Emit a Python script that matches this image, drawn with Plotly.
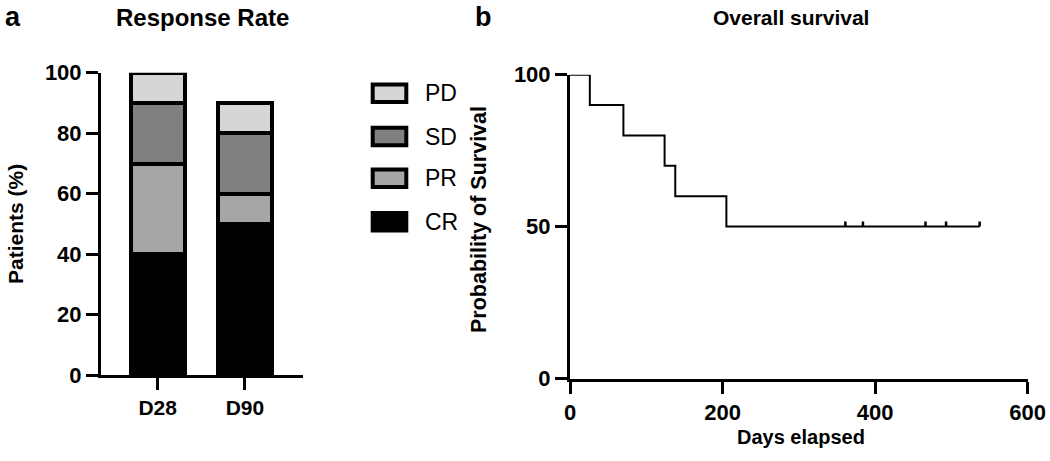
import plotly.graph_objects as go

# panel a: response rate (% of patients), stacked
timepoints = ["D28", "D90"]
cr = [40, 50]
pr = [30, 10]
sd = [20, 20]
pd_ = [10, 10]
resp_names = ["CR", "PR", "SD", "PD"]
resp_colors = ["#000000", "#a6a6a6", "#808080", "#d6d6d6"]

# panel b: Kaplan-Meier overall survival
km_days = [0, 26, 70, 124, 138, 205, 537]
km_surv = [100, 90, 80, 70, 60, 50, 50]
censor_days = [361, 384, 466, 493, 537]
censor_surv = [50, 50, 50, 50, 50]

W, H = 1050, 461
FONT = "Liberation Sans"


def px(x):
    return x / W


def py(y):
    return 1 - y / H


fig = go.Figure()

for name, vals, col in zip(resp_names, [cr, pr, sd, pd_], resp_colors):
    fig.add_trace(go.Bar(
        x=timepoints, y=vals, name=name, width=0.62,
        marker=dict(color=col, line=dict(color="black", width=4)),
        cliponaxis=False, xaxis="x", yaxis="y", showlegend=False,
    ))

fig.add_trace(go.Scatter(
    x=km_days, y=km_surv, mode="lines", line=dict(color="black", width=2, shape="hv"),
    cliponaxis=False, xaxis="x2", yaxis="y2", showlegend=False,
))
# censor marks: short upward ticks
fig.add_trace(go.Scatter(
    x=censor_days, y=censor_surv, mode="markers",
    marker=dict(size=1, color="rgba(0,0,0,0)"),
    error_y=dict(type="constant", value=1.7, symmetric=False, valueminus=0,
                 thickness=2.5, width=0, color="black"),
    cliponaxis=False, xaxis="x2", yaxis="y2", showlegend=False,
))

tickfont = dict(family=FONT, size=22, color="black", weight="bold")
axis_common = dict(showline=True, linewidth=3, linecolor="black", ticks="outside",
                   ticklen=12, tickwidth=3, tickcolor="black", showgrid=False,
                   zeroline=False, tickfont=tickfont, automargin=False)

fig.update_layout(
    width=W, height=H, margin=dict(l=0, r=0, t=0, b=0, autoexpand=False),
    paper_bgcolor="white", plot_bgcolor="white",
    barmode="stack", bargap=0,
    xaxis=dict(domain=[px(101), px(303)], anchor="y", range=[-0.649, 1.665],
               type="category", **axis_common),
    yaxis=dict(domain=[py(375), py(72.7)], anchor="x", range=[0, 100],
               tickvals=[0, 20, 40, 60, 80, 100], **axis_common),
    xaxis2=dict(domain=[px(570), px(1027.7)], anchor="y2", range=[0, 600],
                tickvals=[0, 200, 400, 600], **axis_common),
    yaxis2=dict(domain=[py(378.5), py(74.7)], anchor="x2", range=[0, 100],
                tickvals=[0, 50, 100], **axis_common),
)
fig.update_xaxes(tickfont_size=21, selector=dict(type="category"))

# legend drawn by hand to get the large outlined boxes
leg_rows = [("PD", 93.3), ("SD", 136.5), ("PR", 178.3), ("CR", 221.7)]
for name, yc in leg_rows:
    col = resp_colors[resp_names.index(name)]
    fig.add_shape(type="rect", xref="paper", yref="paper",
                  x0=px(372.7), x1=px(406.3), y0=py(yc + 8.7), y1=py(yc - 8.7),
                  fillcolor=col, line=dict(color="black", width=4))
    fig.add_annotation(x=px(423), y=py(yc), xref="paper", yref="paper",
                       text=name, showarrow=False, xanchor="left", yanchor="middle",
                       font=dict(family=FONT, size=23, color="black"))

texts = [
    ("a", 13, 17, 27, 0),
    ("Response Rate", 202, 18, 24, 0),
    ("b", 483, 17, 27, 0),
    ("Overall survival", 791, 18, 21, 0),
    ("Patients (%)", 15, 224, 21, -90),
    ("Probability of Survival", 479, 220, 21.5, -90),
    ("Days elapsed", 801, 437, 20, 0),
]
for t, x, y, s, ang in texts:
    fig.add_annotation(x=px(x), y=py(y), xref="paper", yref="paper", text=t,
                       showarrow=False, xanchor="center", yanchor="middle", textangle=ang,
                       font=dict(family=FONT, size=s, color="black", weight="bold"))

# drop the default page margin so the figure sits at the window's corner
fig.write_html("out.html", config={"displayModeBar": False},
               post_script="document.body.style.margin='0';document.body.style.overflow='hidden';")
